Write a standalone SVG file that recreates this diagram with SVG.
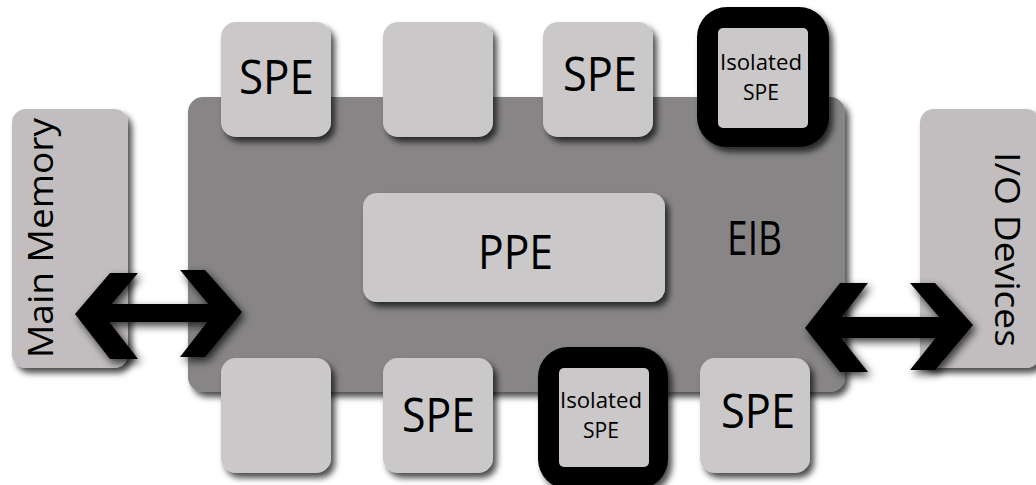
<svg xmlns="http://www.w3.org/2000/svg" width="1036" height="485" viewBox="0 0 1036 485">
  <defs>
    <filter id="shadow" x="-20%" y="-20%" width="140%" height="140%">
      <feDropShadow dx="4" dy="5" stdDeviation="3" flood-color="#000" flood-opacity="0.7"/>
    </filter>
    <filter id="arrowShadow" x="-30%" y="-30%" width="160%" height="160%">
      <feDropShadow dx="3" dy="4" stdDeviation="4" flood-color="#000" flood-opacity="0.75"/>
    </filter>
  </defs>
  <style>
    .bus { fill: #878586; filter: url(#shadow); }
    .ext { fill: #c2bebf; filter: url(#shadow); }
    .unit { fill: #cbc8c9; filter: url(#shadow); }
    .ring { fill: #000; filter: url(#shadow); }
    .core { fill: #cbc8c9; }
    .arrow { fill: #000; filter: url(#arrowShadow); }
    text { font-family: "Open Sans", "Liberation Sans", sans-serif; fill: #000; text-anchor: middle; }
    .big { font-size: 47px; }
    .small { font-size: 21px; }
    .side { font-size: 35px; }
  </style>

  <rect width="1036" height="485" fill="#fff"/>

  <!-- Element Interconnect Bus -->
  <g id="eib">
    <rect class="bus" x="188" y="97" width="657" height="295" rx="15"/>
    <text class="big" x="754.5" y="255" font-size="45" textLength="55" lengthAdjust="spacingAndGlyphs">EIB</text>
  </g>

  <!-- External blocks -->
  <g id="main-memory">
    <rect class="ext" x="12" y="109" width="116" height="259" rx="14"/>
    <text class="side" transform="translate(53,238) rotate(-90)" textLength="240" lengthAdjust="spacingAndGlyphs">Main Memory</text>
  </g>
  <g id="io-devices">
    <rect class="ext" x="920" y="109" width="120" height="259" rx="14"/>
    <text class="side" transform="translate(995,249.5) rotate(90)" textLength="195" lengthAdjust="spacingAndGlyphs">I/O Devices</text>
  </g>

  <!-- PPE -->
  <g id="ppe">
    <rect class="unit" x="363" y="193" width="302" height="109" rx="14"/>
    <text class="big" x="515.5" y="269" font-size="50" textLength="75" lengthAdjust="spacingAndGlyphs">PPE</text>
  </g>

  <!-- Top row of SPEs -->
  <g id="spe-top-1">
    <rect class="unit" x="221" y="22" width="110" height="115" rx="15"/>
    <text class="big" x="276.5" y="94" textLength="75" lengthAdjust="spacingAndGlyphs">SPE</text>
  </g>
  <g id="spe-top-2">
    <rect class="unit" x="383" y="22" width="110" height="115" rx="15"/>
  </g>
  <g id="spe-top-3">
    <rect class="unit" x="543" y="22" width="110" height="115" rx="15"/>
    <text class="big" x="600" y="91" textLength="74" lengthAdjust="spacingAndGlyphs">SPE</text>
  </g>
  <g id="spe-top-isolated">
    <rect class="ring" x="697" y="7" width="132" height="140" rx="30"/>
    <rect class="core" x="718" y="28" width="90" height="100" rx="5"/>
    <text class="small" x="761" y="70" textLength="82" lengthAdjust="spacingAndGlyphs">Isolated</text>
    <text class="small" x="761" y="100" textLength="36" lengthAdjust="spacingAndGlyphs">SPE</text>
  </g>

  <!-- Bottom row of SPEs -->
  <g id="spe-bottom-1">
    <rect class="unit" x="221" y="358" width="110" height="115" rx="15"/>
  </g>
  <g id="spe-bottom-2">
    <rect class="unit" x="383" y="358" width="110" height="115" rx="15"/>
    <text class="big" x="438.5" y="432" textLength="73" lengthAdjust="spacingAndGlyphs">SPE</text>
  </g>
  <g id="spe-bottom-isolated">
    <rect class="ring" x="538" y="347" width="130" height="142" rx="30"/>
    <rect class="core" x="559" y="368" width="90" height="99" rx="5"/>
    <text class="small" x="601" y="408" textLength="82" lengthAdjust="spacingAndGlyphs">Isolated</text>
    <text class="small" x="601" y="438" textLength="36" lengthAdjust="spacingAndGlyphs">SPE</text>
  </g>
  <g id="spe-bottom-3">
    <rect class="unit" x="700" y="358" width="110" height="115" rx="15"/>
    <text class="big" x="758" y="428" textLength="74" lengthAdjust="spacingAndGlyphs">SPE</text>
  </g>

  <!-- Bidirectional links -->
  <g id="connectors">
    <g class="arrow">
      <path d="M110,273 L138,273 L103,314 L138,359 L110,359 L75,314 Z
               M180,270 L205,270 L242,312 L205,357 L180,357 L215,312 Z
               M98,304 L222,304 L222,322 L98,322 Z"/>
    </g>
    <g class="arrow">
      <path d="M840,283 L868,283 L833,328 L868,372 L840,372 L805,328 Z
               M910,283 L935,283 L973,325 L935,370 L910,370 L946,325 Z
               M828,317 L950,317 L950,338 L828,338 Z"/>
    </g>
  </g>
</svg>
